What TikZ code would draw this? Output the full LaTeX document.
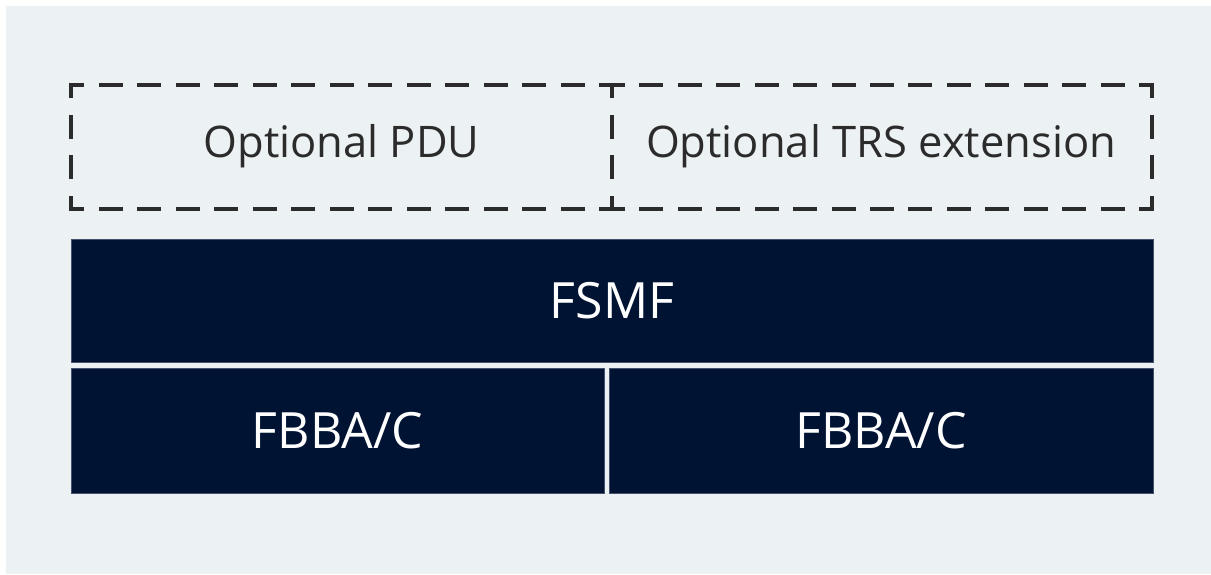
\documentclass[tikz,border=0pt]{standalone}
\usepackage{fontspec}
\setmainfont{Open Sans}
\definecolor{panelbg}{HTML}{ECF1F4}
\definecolor{navy}{HTML}{011333}
\definecolor{navyedge}{HTML}{44526E}
\definecolor{inkgray}{HTML}{2B2B2B}
\tikzset{
  optlabel/.style={text=inkgray, font=\fontsize{43.5}{50}\selectfont, inner sep=0pt},
  layerbox/.style={fill=navy, draw=navyedge, line width=1pt, text=white,
                   inner sep=0pt, font=\fontsize{50}{58}\selectfont},
  % dashed segment: half dash at each end, gap length given as argument
  dseg/.style={draw=inkgray, line width=4pt, line cap=rect,
               dash pattern=on 20pt off #1pt, dash phase=9pt}
}
\begin{document}
\begin{tikzpicture}[x=1pt,y=-1pt]
  \useasboundingbox (0,0) rectangle (1211,574);
  \fill[panelbg] (6,6) rectangle (1211,574);

  % optional (dashed) layer
  \coordinate (tl) at (71,85);
  \coordinate (tm) at (612,85);
  \coordinate (tr) at (1152,85);
  \coordinate (bl) at (71,209);
  \coordinate (bm) at (612,209);
  \coordinate (br) at (1152,209);
  \draw[dseg=18.5] (tl) -- (tm);
  \draw[dseg=18.43] (tm) -- (tr);
  \draw[dseg=18.5] (bl) -- (bm);
  \draw[dseg=18.43] (bm) -- (br);
  \draw[dseg=20.67] (tl) -- (bl);
  \draw[dseg=20.67] (tm) -- (bm);
  \draw[dseg=20.67] (tr) -- (br);
  \node[optlabel] (pdu) at (341.5,146) {Optional PDU};
  \node[optlabel] (trs) at (881,146) {Optional TRS extension};

  % mandatory layers
  \node[layerbox, minimum width=1082pt, minimum height=123pt] (fsmf) at (612,300.5) {FSMF};
  \node[layerbox, minimum width=533pt, minimum height=125pt] (fbbaL) at (337.5,430.5) {FBBA/C};
  \node[layerbox, minimum width=544pt, minimum height=125pt] (fbbaR) at (881,430.5) {FBBA/C};
\end{tikzpicture}
\end{document}
